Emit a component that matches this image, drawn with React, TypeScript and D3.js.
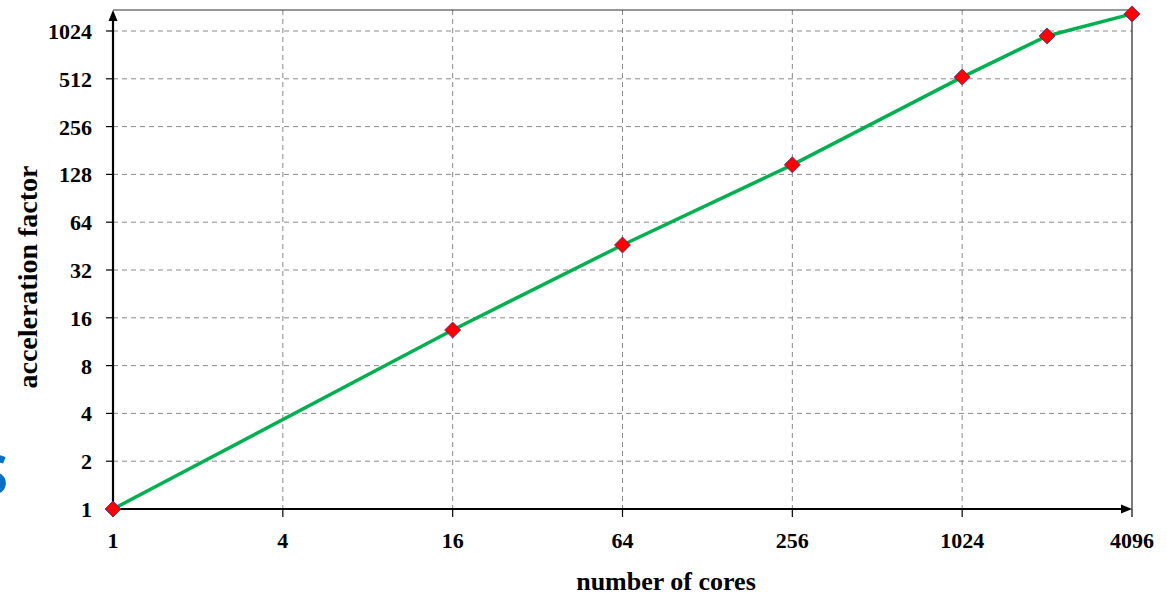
import React from "react";
import * as d3 from "d3";

const cores = [1, 16, 64, 256, 1024, 2048, 4096];
const acceleration = [1, 13.4, 46, 147, 525, 953, 1312];
const xTickValues = [1, 4, 16, 64, 256, 1024, 4096];
const yTickValues = [1, 2, 4, 8, 16, 32, 64, 128, 256, 512, 1024];
const xTitle = "number of cores";
const yTitle = "acceleration factor";

const W = 1167;
const H = 596;
const left = 113;
const right = 1132;
const top = 10;
const bottom = 509;

export default function App() {
  const x = d3.scaleLog().base(2).domain([1, 4096]).range([left, right]);
  const y = d3.scaleLog().base(2).domain([1, 1024]).range([bottom, 31]);
  const pts: [number, number][] = cores.map((c, i) => [x(c), y(acceleration[i])]);
  const line = d3.line<[number, number]>().x((d) => d[0]).y((d) => d[1]);
  const font = "'Liberation Serif', 'Times New Roman', serif";
  const diamond = (cx: number, cy: number, r: number) =>
    `M${cx},${cy - r}L${cx + r},${cy}L${cx},${cy + r}L${cx - r},${cy}Z`;

  return (
    <svg
      width={W}
      height={H}
      style={{ position: "absolute", left: 0, top: 0, background: "#fff" }}
    >
      <rect x={0} y={0} width={W} height={H} fill="#fff" />
      {/* partial blue letter at left edge */}
      <text
        x={8}
        y={494}
        textAnchor="end"
        fontFamily="'Open Sans', sans-serif"
        fontWeight="bold"
        fontSize={54}
        fill="#0A70C4"
      >
        S
      </text>
      {/* grid */}
      {xTickValues
        .filter((v) => v > 1 && v < 4096)
        .map((v) => (
          <line
            key={"gx" + v}
            x1={x(v)}
            x2={x(v)}
            y1={top}
            y2={bottom}
            stroke="#8a8a8a"
            strokeWidth={1}
            strokeDasharray="5,4"
          />
        ))}
      {yTickValues
        .filter((v) => v > 1)
        .map((v) => (
          <line
            key={"gy" + v}
            x1={left}
            x2={right}
            y1={y(v)}
            y2={y(v)}
            stroke="#8a8a8a"
            strokeWidth={1}
            strokeDasharray="5,4"
          />
        ))}
      {/* frame */}
      <line x1={left} x2={right} y1={top} y2={top} stroke="#333" strokeWidth={1.2} />
      <line x1={right} x2={right} y1={top} y2={bottom} stroke="#222" strokeWidth={1.2} />
      {/* axes */}
      <line x1={left} x2={left} y1={bottom} y2={top + 8} stroke="#000" strokeWidth={2.2} />
      <path d={`M${left},${top}L${left + 4.5},${top + 11}L${left - 4.5},${top + 11}Z`} fill="#000" />
      <line x1={left} x2={right - 8} y1={bottom} y2={bottom} stroke="#000" strokeWidth={2.2} />
      <path d={`M${right},${bottom}L${right - 11},${bottom - 4.5}L${right - 11},${bottom + 4.5}Z`} fill="#000" />
      {/* ticks */}
      {xTickValues.map((v) => (
        <g key={"tx" + v}>
          <line x1={x(v)} x2={x(v)} y1={bottom} y2={bottom + 8} stroke="#000" strokeWidth={1.2} />
          <text
            x={x(v)}
            y={548}
            textAnchor="middle"
            fontFamily={font}
            fontWeight="bold"
            fontSize={22}
            fill="#000"
          >
            {v}
          </text>
        </g>
      ))}
      {yTickValues.map((v) => (
        <g key={"ty" + v}>
          <line x1={left - 7} x2={left} y1={y(v)} y2={y(v)} stroke="#000" strokeWidth={1.2} />
          <text
            x={92}
            y={y(v) + 8}
            textAnchor="end"
            fontFamily={font}
            fontWeight="bold"
            fontSize={22}
            fill="#000"
          >
            {v}
          </text>
        </g>
      ))}
      {/* titles */}
      <text
        x={666}
        y={590}
        textAnchor="middle"
        fontFamily={font}
        fontWeight="bold"
        fontSize={26}
        fill="#000"
      >
        {xTitle}
      </text>
      <text
        transform={`translate(37,277) rotate(-90)`}
        textAnchor="middle"
        fontFamily={font}
        fontWeight="bold"
        fontSize={28}
        fill="#000"
      >
        {yTitle}
      </text>
      {/* series */}
      <path d={line(pts) || ""} fill="none" stroke="#00B050" strokeWidth={3.5} />
      {pts.map((p, i) => (
        <path
          key={"m" + i}
          d={diamond(p[0], p[1], 8)}
          fill="#FF0000"
          stroke="#3A2C8C"
          strokeWidth={0.8}
        />
      ))}
    </svg>
  );
}
